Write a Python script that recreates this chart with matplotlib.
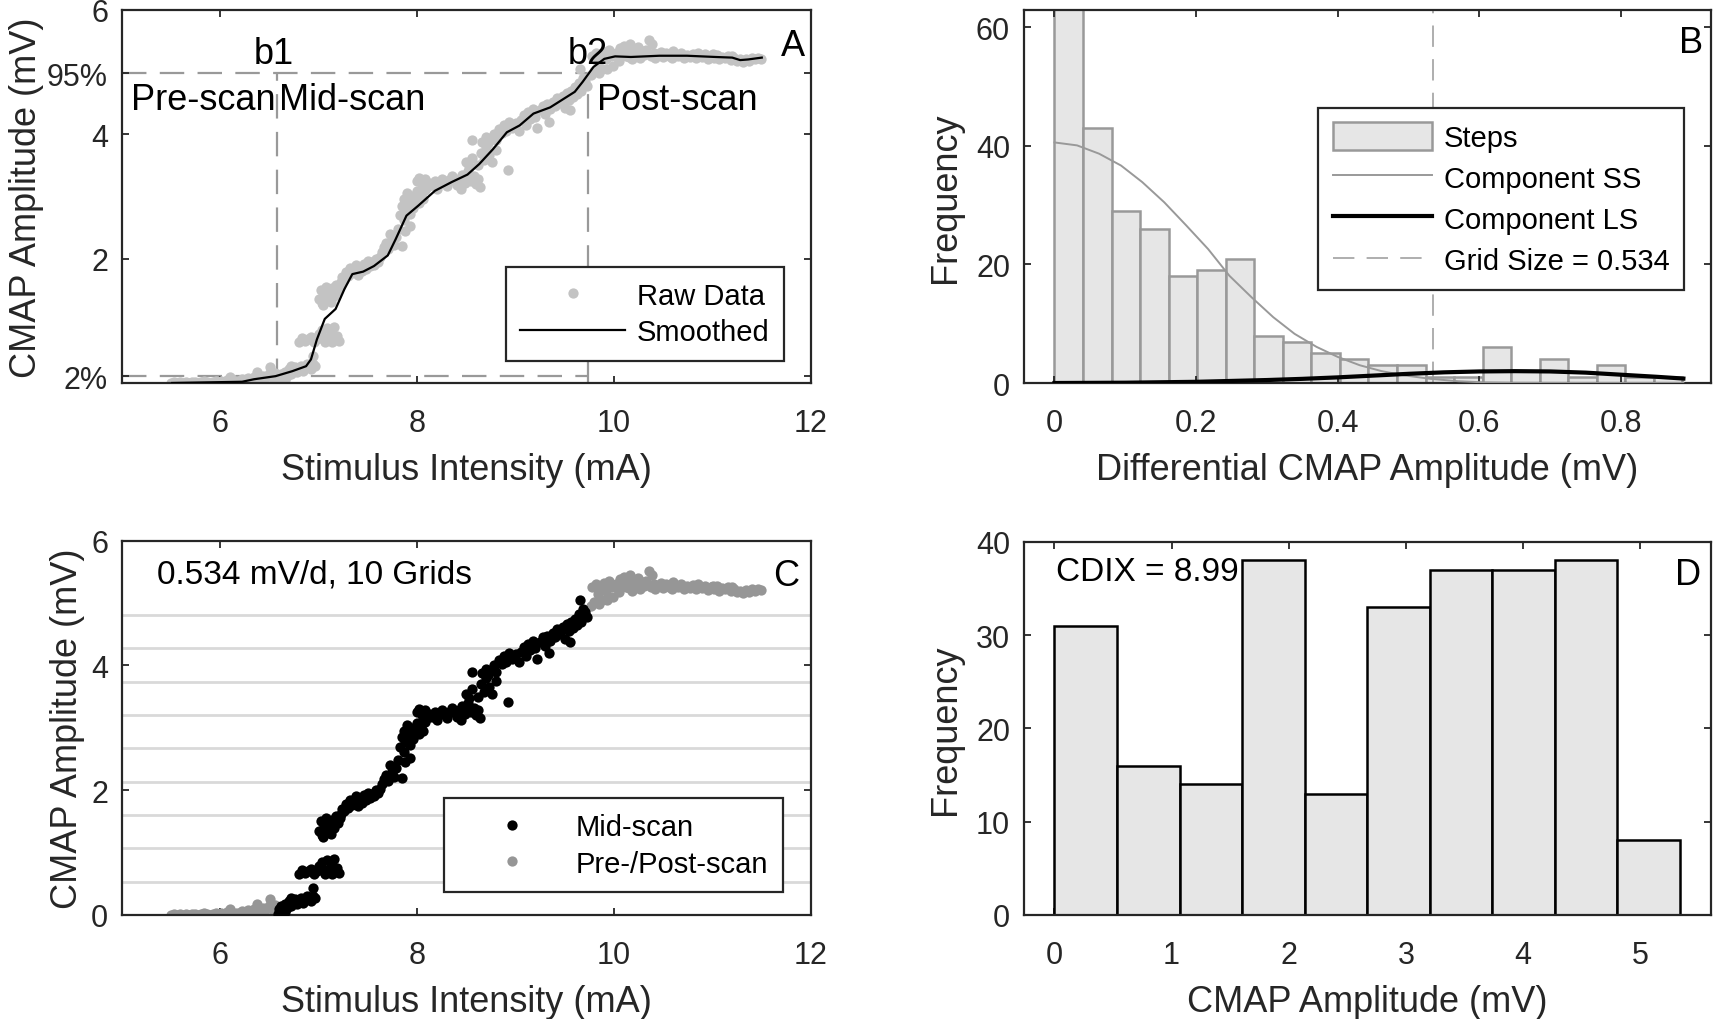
import numpy as np
import matplotlib
matplotlib.use("Agg")
import matplotlib.pyplot as plt
from matplotlib.lines import Line2D
from matplotlib.patches import Patch

plt.rcParams['font.family'] = ['Liberation Sans', 'DejaVu Sans']

# ---------------- data ----------------
pre_x = [5.50,5.53,5.56,5.59,5.62,5.65,5.68,5.71,5.74,5.77,5.80,5.83,5.86,5.89,5.92,5.95,5.98,6.01,6.04,
         6.07,6.10,6.13,6.16,6.19,6.22,6.25,6.28,6.31,6.34,6.37,6.40,6.43,6.46,6.49,6.52,6.55,6.38,6.50]
pre_y = [0.00,0.01,0.00,0.01,0.00,0.02,0.00,0.01,0.02,0.00,0.01,0.03,0.01,0.00,0.02,0.04,0.01,0.03,0.02,
         0.05,0.10,0.02,0.04,0.03,0.06,0.04,0.08,0.05,0.10,0.18,0.07,0.12,0.09,0.14,0.10,0.16,0.05,0.26]

mid_x = [6.58,6.60,6.62,6.64,6.66,6.68,6.70,6.72,6.74,6.76,6.78,6.80,6.82,6.84,6.86,6.88,6.90,6.92,6.94,6.96,6.94,6.66,6.72,
         6.80,6.83,6.86,6.89,6.92,6.95,6.98,7.00,7.03,7.05,7.08,7.10,7.12,7.15,7.18,7.20,7.06,7.13,
         7.00,7.02,7.03,7.05,7.07,7.08,7.10,7.12,7.13,7.15,7.17,7.19,7.21,7.04,
         7.22,7.24,7.26,7.28,7.30,7.32,7.34,7.36,7.38,7.40,7.42,7.44,7.46,7.48,7.50,7.52,7.54,7.56,7.58,7.60,7.62,
         7.64,7.66,7.68,7.70,7.72,7.74,7.76,7.78,7.80,7.84,7.88,7.93,
         7.82,7.84,7.86,7.87,7.88,7.90,7.92,7.93,7.95,7.96,7.98,8.00,8.02,8.04,8.06,8.08,
         8.00,8.02,8.05,8.08,8.10,8.12,8.15,8.18,8.20,8.22,8.25,8.28,8.30,8.32,8.35,8.38,8.40,8.42,8.45,8.48,
         8.50,8.52,8.55,8.58,8.60,8.62,8.64,8.44,
         8.50,8.53,8.56,8.56,8.62,8.65,8.68,8.70,8.73,8.76,8.80,8.92,
         8.66,8.70,8.72,8.75,8.78,8.80,8.83,8.86,8.88,8.90,8.93,8.96,9.00,9.03,
         9.05,9.08,9.10,9.12,9.15,9.18,9.20,9.22,9.25,9.28,9.30,9.34,
         9.32,9.35,9.38,9.40,9.42,9.45,9.48,9.50,9.52,9.54,9.56,9.58,9.60,9.62,9.64,9.66,9.68,9.70,9.72,9.65,9.55]
mid_y = [0.02,0.10,0.15,0.08,0.18,0.12,0.22,0.15,0.20,0.25,0.18,0.22,0.28,0.20,0.25,0.30,0.26,0.22,0.30,0.28,0.44,0.05,0.27,
         0.66,0.72,0.68,0.70,0.74,0.66,0.70,0.78,0.85,0.72,0.88,0.70,0.82,0.90,0.75,0.68,0.66,0.66,
         1.35,1.50,1.28,1.42,1.55,1.35,1.45,1.30,1.52,1.40,1.58,1.48,1.55,1.25,
         1.62,1.70,1.66,1.78,1.72,1.85,1.76,1.82,1.90,1.74,1.86,1.80,1.92,1.84,1.96,1.88,1.94,1.90,2.00,1.95,2.02,
         2.10,2.18,2.25,2.15,2.40,2.30,2.22,2.35,2.48,2.20,2.45,2.52,
         2.70,2.85,2.62,2.95,2.78,3.05,2.88,2.72,3.00,2.82,2.95,3.08,2.90,3.02,2.95,3.10,
         3.25,3.30,3.20,3.28,3.15,3.22,3.18,3.25,3.12,3.20,3.28,3.22,3.16,3.26,3.32,3.24,3.18,3.28,3.35,3.22,
         3.30,3.40,3.25,3.32,3.20,3.28,3.15,3.12,
         3.55,3.48,3.62,3.90,3.50,3.70,3.58,3.80,3.66,3.55,3.75,3.42,
         3.88,3.95,3.85,3.92,4.00,3.90,4.08,4.02,4.15,4.05,4.20,4.10,4.18,4.05,
         4.22,4.30,4.15,4.35,4.25,4.40,4.28,4.10,4.38,4.45,4.32,4.20,
         4.48,4.40,4.52,4.45,4.58,4.50,4.62,4.42,4.66,4.55,4.70,4.60,4.75,4.65,4.82,4.70,4.90,4.85,4.78,5.05,4.38]

post_x = [9.76,9.78,9.80,9.82,9.84,9.86,9.88,9.90,9.92,9.95,9.97,9.99,
          10.02,10.04,10.06,10.08,10.10,10.12,10.14,10.16,10.18,10.20,10.22,10.24,10.26,10.28,10.30,10.32,
          10.35,10.37,10.40,10.42,10.45,10.48,10.50,
          10.53,10.56,10.59,10.62,10.65,10.68,10.71,10.74,10.77,10.80,10.83,10.86,10.89,10.92,10.95,10.98,
          11.01,11.04,11.07,11.10,11.13,11.16,11.19,11.22,11.25,11.28,11.31,11.34,11.37,11.40,11.43,11.46,11.49,
          10.05,10.15,10.25,10.38,10.60,10.85,11.00,11.20,9.85,9.93]
post_y = [4.95,5.25,5.02,5.30,5.15,5.28,5.05,5.32,5.20,5.35,5.25,5.10,
          5.30,5.22,5.38,5.28,5.42,5.25,5.32,5.45,5.20,5.35,5.28,5.40,5.22,5.33,5.27,5.36,
          5.52,5.25,5.30,5.22,5.28,5.32,5.24,
          5.30,5.26,5.22,5.29,5.25,5.31,5.23,5.27,5.24,5.29,5.22,5.26,5.24,5.28,5.21,5.25,
          5.23,5.27,5.20,5.24,5.22,5.25,5.19,5.22,5.17,5.20,5.16,5.21,5.18,5.22,5.20,5.23,5.21,
          5.18,5.24,5.30,5.45,5.33,5.30,5.28,5.26,4.98,5.05]

smooth_x = [5.51,6.22,6.34,6.56,6.73,6.87,6.92,6.98,7.06,7.17,7.26,7.34,7.45,7.56,7.70,7.78,7.89,8.01,
            8.18,8.35,8.51,8.63,8.77,8.91,9.04,9.18,9.35,9.46,9.60,9.68,9.79,9.90,10.01,10.17,10.46,
            10.74,11.03,11.20,11.28,11.36,11.50]
smooth_y = [0.00,0.02,0.06,0.11,0.19,0.27,0.38,0.70,1.03,1.19,1.51,1.75,1.79,1.88,2.05,2.31,2.69,2.85,
            3.09,3.23,3.35,3.52,3.76,4.03,4.14,4.33,4.43,4.54,4.68,4.84,5.08,5.21,5.25,5.24,5.26,
            5.26,5.24,5.23,5.19,5.20,5.23]

b1 = 6.575          # mA
b2 = 9.73           # mA
amp_lo = 0.105      # 2 % level (mV)
amp_hi = 4.98       # 95 % level (mV)

step_bin_width = 0.0403
step_counts = [66, 43, 29, 26, 18, 19, 21, 8, 7, 5, 4, 3, 3, 1, 1, 6, 2, 4, 1, 3, 1, 1]
ss_x = [0, 0.032, 0.063, 0.094, 0.124, 0.155, 0.186, 0.217, 0.247, 0.278, 0.309, 0.339, 0.370,
        0.40, 0.431, 0.462, 0.493, 0.531, 0.57, 0.608, 0.65, 0.75, 0.888]
ss_y = [40.6, 40.1, 38.7, 36.7, 33.9, 30.5, 26.6, 22.6, 18.1, 14.5, 11.1, 8.3, 6.1,
        4.4, 3.0, 2.0, 1.3, 0.7, 0.3, 0.1, 0.03, 0.0, 0.0]
ls_x = [0, 0.1, 0.2, 0.3, 0.35, 0.4, 0.45, 0.5, 0.55, 0.6, 0.65, 0.7, 0.75, 0.8, 0.85, 0.888]
ls_y = [0.0, 0.05, 0.2, 0.5, 0.7, 0.95, 1.25, 1.55, 1.8, 1.95, 2.0, 1.95, 1.75, 1.4, 1.05, 0.75]
grid_size = 0.534
n_grids = 10

amp_counts = [31, 16, 14, 38, 13, 33, 37, 37, 38, 8]
cdix = 8.99

# ---------------- style ----------------
AX_COL = '#262626'
TICK_FS = 22
LAB_FS = 26
ANN_FS = 24
BIG_FS = 26
LEG_FS = 21
RAW_COL = '#c3c3c3'
PP_COL = '#969696'
DASH_COL = '#999999'
MS = 55

W, H = 1713, 1020
fig = plt.figure(figsize=(W / 100, H / 100), dpi=100)

def px_axes(l, r, t, b):
    return fig.add_axes([l / W, 1 - b / H, (r - l) / W, (b - t) / H])

axA = px_axes(122, 811, 10.7, 384)
axB = px_axes(1024, 1711, 10.7, 384)
axC = px_axes(122, 811, 541.7, 916)
axD = px_axes(1024, 1711, 542.7, 916)

def style(ax, xpad=18, ypad=10):
    for s in ax.spines.values():
        s.set_color(AX_COL)
        s.set_linewidth(1.6)
    ax.tick_params(direction='in', top=True, right=True, length=4.8, width=1.3,
                   colors=AX_COL, labelsize=TICK_FS)
    ax.tick_params(axis='x', pad=xpad)
    ax.tick_params(axis='y', pad=ypad)

def legend(ax, handles, labels, hl=3.6, **kw):
    lg = ax.legend(handles, labels, fontsize=LEG_FS, frameon=True, fancybox=False,
                   handlelength=hl, handletextpad=0.4, borderpad=0.5,
                   borderaxespad=0, **kw)
    fr = lg.get_frame()
    fr.set_edgecolor(AX_COL)
    fr.set_linewidth(1.6)
    fr.set_facecolor('white')
    fr.set_alpha(1)
    return lg

all_x = pre_x + mid_x + post_x
all_y = pre_y + mid_y + post_y

# ---------------- Panel A ----------------
ax = axA
ax.scatter(all_x, all_y, s=MS, color=RAW_COL, linewidths=0, zorder=2)
ax.plot(smooth_x, smooth_y, color='black', lw=1.6, zorder=3)
dash = dict(color=DASH_COL, lw=1.6, dashes=(11, 6), zorder=1)
ax.plot([5, b2], [amp_hi, amp_hi], **dash)
ax.plot([5, b2], [amp_lo, amp_lo], **dash)
ax.plot([b1, b1], [0, amp_hi], **dash)
ax.plot([b2, b2], [0, amp_hi], **dash)
ax.set_xlim(5, 12)
ax.set_ylim(0, 6)
ax.set_xticks([6, 8, 10, 12])
ax.set_yticks([amp_lo, 2, 4, amp_hi, 6])
ax.set_yticklabels(['2%', '2', '4', '95%', '6'])
style(ax)
ax.set_xlabel('Stimulus Intensity (mA)', fontsize=LAB_FS, color=AX_COL, labelpad=10)
ax.set_ylabel('CMAP Amplitude (mV)', fontsize=LAB_FS, color=AX_COL, labelpad=2)
ax.text(b1 - 0.03, 5.29, 'b1', fontsize=BIG_FS, ha='center', va='center')
ax.text(b2, 5.29, 'b2', fontsize=BIG_FS, ha='center', va='center')
ax.text(5.09, 4.56, 'Pre-scan', fontsize=BIG_FS, ha='left', va='center')
ax.text(b1 + 0.02, 4.56, 'Mid-scan', fontsize=BIG_FS, ha='left', va='center')
ax.text(b2 + 0.1, 4.56, 'Post-scan', fontsize=BIG_FS, ha='left', va='center')
ax.text(0.991, 0.905, 'A', transform=ax.transAxes, fontsize=BIG_FS, ha='right', va='center')
legend(ax,
       [Line2D([], [], ls='none', marker='o', markersize=7.4, color=RAW_COL, markeredgewidth=0),
        Line2D([], [], color='black', lw=1.6)],
       ['Raw Data', 'Smoothed'], loc='lower right', bbox_to_anchor=(0.961, 0.059),
       labelspacing=0.3)

# ---------------- Panel B ----------------
ax = axB
edges = np.arange(len(step_counts)) * step_bin_width
ax.bar(edges, step_counts, width=step_bin_width, align='edge', color='#e6e6e6',
       edgecolor='#999999', linewidth=1.8, zorder=1)
ax.plot(ss_x, ss_y, color='#999999', lw=1.4, zorder=3)
ax.plot(ls_x, ls_y, color='black', lw=3.0, zorder=3)
ax.axvline(grid_size, color=DASH_COL, lw=1.1, dashes=(14, 8), zorder=2)
ax.set_xlim(-0.043, 0.927)
ax.set_ylim(0, 63)
ax.set_xticks([0, 0.2, 0.4, 0.6, 0.8])
ax.set_xticklabels(['0', '0.2', '0.4', '0.6', '0.8'])
ax.set_yticks([0, 20, 40, 60])
style(ax)
ax.set_xlabel('Differential CMAP Amplitude (mV)', fontsize=LAB_FS, color=AX_COL, labelpad=10)
ax.set_ylabel('Frequency', fontsize=LAB_FS, color=AX_COL, labelpad=9)
ax.text(0.988, 0.912, 'B', transform=ax.transAxes, fontsize=BIG_FS, ha='right', va='center')
legend(ax,
       [Patch(facecolor='#e6e6e6', edgecolor='#999999', linewidth=1.8),
        Line2D([], [], color='#999999', lw=1.4),
        Line2D([], [], color='black', lw=3.0),
        Line2D([], [], color=DASH_COL, lw=1.1, dashes=(14, 8))],
       ['Steps', 'Component SS', 'Component LS', 'Grid Size = %.3f' % grid_size],
       hl=3.4, loc='upper right', bbox_to_anchor=(0.961, 0.737), labelspacing=0.4,
       handleheight=1.05)

# ---------------- Panel C ----------------
ax = axC
for k in range(1, n_grids):
    ax.axhline(grid_size * k, color='#d9d9d9', lw=2.0, zorder=1)
ax.scatter(pre_x + post_x, pre_y + post_y, s=MS, color=PP_COL, linewidths=0, zorder=2)
ax.scatter(mid_x, mid_y, s=MS, color='black', linewidths=0, zorder=3)
ax.set_xlim(5, 12)
ax.set_ylim(0, 6)
ax.set_xticks([6, 8, 10, 12])
ax.set_yticks([0, 2, 4, 6])
style(ax)
ax.set_xlabel('Stimulus Intensity (mA)', fontsize=LAB_FS, color=AX_COL, labelpad=10)
ax.set_ylabel('CMAP Amplitude (mV)', fontsize=LAB_FS, color=AX_COL, labelpad=4)
ax.text(0.051, 0.911, '%.3f mV/d, %d Grids' % (grid_size, n_grids), transform=ax.transAxes,
        fontsize=ANN_FS, ha='left', va='center')
ax.text(0.983, 0.906, 'C', transform=ax.transAxes, fontsize=BIG_FS, ha='right', va='center')
legend(ax,
       [Line2D([], [], ls='none', marker='o', markersize=7.4, color='black', markeredgewidth=0),
        Line2D([], [], ls='none', marker='o', markersize=7.4, color=PP_COL, markeredgewidth=0)],
       ['Mid-scan', 'Pre-/Post-scan'], loc='lower right', bbox_to_anchor=(0.959, 0.061),
       labelspacing=0.3)

# ---------------- Panel D ----------------
ax = axD
dedges = np.arange(len(amp_counts)) * grid_size
ax.bar(dedges, amp_counts, width=grid_size, align='edge', color='#e6e6e6',
       edgecolor='black', linewidth=1.8, zorder=2)
ax.set_xlim(-0.26, 5.605)
ax.set_ylim(0, 40)
ax.set_xticks([0, 1, 2, 3, 4, 5])
ax.set_yticks([0, 10, 20, 30, 40])
style(ax)
ax.set_xlabel('CMAP Amplitude (mV)', fontsize=LAB_FS, color=AX_COL, labelpad=10)
ax.set_ylabel('Frequency', fontsize=LAB_FS, color=AX_COL, labelpad=9)
ax.text(0.046, 0.919, 'CDIX = %.2f' % cdix, transform=ax.transAxes, fontsize=ANN_FS,
        ha='left', va='center', zorder=5)
ax.text(0.985, 0.912, 'D', transform=ax.transAxes, fontsize=BIG_FS, ha='right', va='center')

fig.savefig('out.png', dpi=100)
